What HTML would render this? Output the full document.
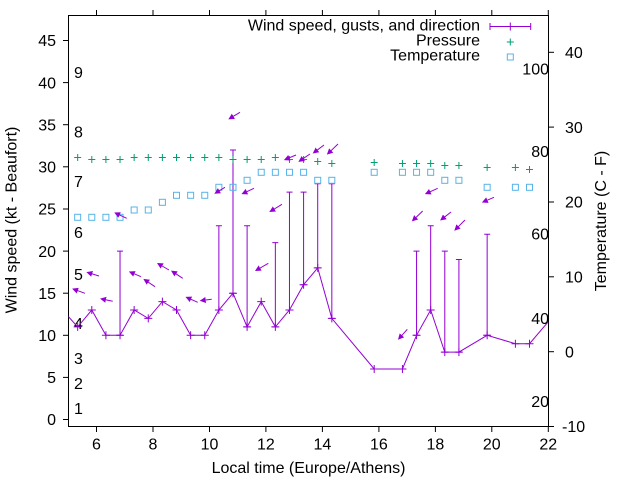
<!DOCTYPE html>
<html><head><meta charset="utf-8"><style>
html,body{margin:0;padding:0;background:#fff;}
svg{display:block;}
text{font-family:"Liberation Sans",Arial,sans-serif;font-size:16px;fill:#000;}
</style></head><body>
<svg width="640" height="480" viewBox="0 0 640 480" xmlns="http://www.w3.org/2000/svg">
<defs>
<marker id="ah" markerUnits="userSpaceOnUse" markerWidth="8" markerHeight="8" refX="4" refY="3" orient="auto">
<path d="M0,0 L6,3 L0,6 z" fill="#9400d3"/>
</marker>
<clipPath id="pc"><rect x="68.5" y="15.5" width="480" height="411"/></clipPath>
</defs>
<rect width="640" height="480" fill="#fff"/>

<rect x="68.5" y="15.5" width="480" height="411" fill="none" stroke="#000" stroke-width="1"/>

<g stroke="#000" stroke-width="1">
<line x1="63" y1="419.5" x2="68.5" y2="419.5"/>
<line x1="63" y1="377.4" x2="68.5" y2="377.4"/>
<line x1="63" y1="335.3" x2="68.5" y2="335.3"/>
<line x1="63" y1="293.2" x2="68.5" y2="293.2"/>
<line x1="63" y1="251.1" x2="68.5" y2="251.1"/>
<line x1="63" y1="209" x2="68.5" y2="209"/>
<line x1="63" y1="166.8" x2="68.5" y2="166.8"/>
<line x1="63" y1="124.7" x2="68.5" y2="124.7"/>
<line x1="63" y1="82.6" x2="68.5" y2="82.6"/>
<line x1="63" y1="40.5" x2="68.5" y2="40.5"/>
<line x1="548.5" y1="426.5" x2="554" y2="426.5"/>
<line x1="548.5" y1="351.7" x2="554" y2="351.7"/>
<line x1="548.5" y1="276.8" x2="554" y2="276.8"/>
<line x1="548.5" y1="202" x2="554" y2="202"/>
<line x1="548.5" y1="127.1" x2="554" y2="127.1"/>
<line x1="548.5" y1="52.3" x2="554" y2="52.3"/>
<line x1="96.5" y1="426.5" x2="96.5" y2="432"/>
<line x1="153" y1="426.5" x2="153" y2="432"/>
<line x1="209.5" y1="426.5" x2="209.5" y2="432"/>
<line x1="265.9" y1="426.5" x2="265.9" y2="432"/>
<line x1="322.4" y1="426.5" x2="322.4" y2="432"/>
<line x1="378.9" y1="426.5" x2="378.9" y2="432"/>
<line x1="435.4" y1="426.5" x2="435.4" y2="432"/>
<line x1="491.8" y1="426.5" x2="491.8" y2="432"/>
<line x1="548.3" y1="426.5" x2="548.3" y2="432"/>
<line x1="96.5" y1="10" x2="96.5" y2="15.5"/>
<line x1="153" y1="10" x2="153" y2="15.5"/>
<line x1="209.5" y1="10" x2="209.5" y2="15.5"/>
<line x1="265.9" y1="10" x2="265.9" y2="15.5"/>
<line x1="322.4" y1="10" x2="322.4" y2="15.5"/>
<line x1="378.9" y1="10" x2="378.9" y2="15.5"/>
<line x1="435.4" y1="10" x2="435.4" y2="15.5"/>
<line x1="491.8" y1="10" x2="491.8" y2="15.5"/>
<line x1="548.3" y1="10" x2="548.3" y2="15.5"/>
</g>

<g text-anchor="end">
<text x="56" y="425.2">0</text>
<text x="56" y="383.1">5</text>
<text x="56" y="341">10</text>
<text x="56" y="298.9">15</text>
<text x="56" y="256.8">20</text>
<text x="56" y="214.7">25</text>
<text x="56" y="172.5">30</text>
<text x="56" y="130.4">35</text>
<text x="56" y="88.3">40</text>
<text x="56" y="46.2">45</text>
</g>
<g>
<text x="562" y="432.2">-10</text>
<text x="565" y="357.4">0</text>
<text x="565" y="282.5">10</text>
<text x="565" y="207.7">20</text>
<text x="565" y="132.8">30</text>
<text x="565" y="58">40</text>
</g>
<g text-anchor="middle">
<text x="96.5" y="449.5">6</text>
<text x="153" y="449.5">8</text>
<text x="209.5" y="449.5">10</text>
<text x="265.9" y="449.5">12</text>
<text x="322.4" y="449.5">14</text>
<text x="378.9" y="449.5">16</text>
<text x="435.4" y="449.5">18</text>
<text x="491.8" y="449.5">20</text>
<text x="548.3" y="449.5">22</text>
</g>

<text x="308.5" y="473" text-anchor="middle">Local time (Europe/Athens)</text>
<text transform="translate(16.5,220) rotate(-90)" text-anchor="middle">Wind speed (kt - Beaufort)</text>
<text transform="translate(606,221) rotate(-90)" text-anchor="middle">Temperature (C - F)</text>

<g>
<text x="74" y="78">9</text>
<text x="74" y="137.4">8</text>
<text x="74" y="187">7</text>
<text x="74" y="238">6</text>
<text x="74" y="280">5</text>
<text x="74" y="329">4</text>
<text x="74" y="364">3</text>
<text x="74" y="389">2</text>
<text x="74" y="414">1</text>
</g>
<g text-anchor="end">
<text x="549" y="74.3">100</text>
<text x="549" y="157.2">80</text>
<text x="549" y="239.5">60</text>
<text x="549" y="324">40</text>
<text x="549" y="407">20</text>
</g>

<g clip-path="url(#pc)">
<polyline fill="none" stroke="#9400d3" stroke-width="1" points="68.3,316.5 77.67,326.9 91.79,310 105.91,335.3 120.03,335.3 134.15,310 148.27,318.4 162.39,301.6 176.51,310 190.63,335.3 204.75,335.3 218.87,310 232.99,293.2 247.11,326.9 261.23,301.6 275.35,326.9 289.47,310 303.59,284.7 317.71,267.9 331.83,318.4 374.19,369 402.43,369 416.55,335.3 430.67,310 444.79,352.1 458.91,352.1 487.15,335.3 515.39,343.7 529.51,343.7 548.3,321.7"/>
<g stroke="#9400d3" stroke-width="1" fill="none">
<path d="M120.03,335.3V251.1M117,251.1h6M117,335.3h6"/>
<path d="M218.87,310V225.8M215.9,225.8h6M215.9,310h6"/>
<path d="M232.99,293.2V150M230,150h6M230,293.2h6"/>
<path d="M247.11,326.9V225.8M244.1,225.8h6M244.1,326.9h6"/>
<path d="M275.35,326.9V242.6M272.3,242.6h6M272.3,326.9h6"/>
<path d="M289.47,310V192.1M286.5,192.1h6M286.5,310h6"/>
<path d="M303.59,284.7V192.1M300.6,192.1h6M300.6,284.7h6"/>
<path d="M317.71,267.9V183.7M314.7,183.7h6M314.7,267.9h6"/>
<path d="M331.83,318.4V183.7M328.8,183.7h6M328.8,318.4h6"/>
<path d="M416.55,335.3V251.1M413.5,251.1h6M413.5,335.3h6"/>
<path d="M430.67,310V225.8M427.7,225.8h6M427.7,310h6"/>
<path d="M444.79,352.1V251.1M441.8,251.1h6M441.8,352.1h6"/>
<path d="M458.91,352.1V259.5M455.9,259.5h6M455.9,352.1h6"/>
<path d="M487.15,335.3V234.2M484.2,234.2h6M484.2,335.3h6"/>
</g>
<g stroke="#9400d3" stroke-width="1">
<path d="M73.67,326.9h8M77.67,322.9v8"/>
<path d="M87.79,310h8M91.79,306v8"/>
<path d="M101.91,335.3h8M105.91,331.3v8"/>
<path d="M116.03,335.3h8M120.03,331.3v8"/>
<path d="M130.15,310h8M134.15,306v8"/>
<path d="M144.27,318.4h8M148.27,314.4v8"/>
<path d="M158.39,301.6h8M162.39,297.6v8"/>
<path d="M172.51,310h8M176.51,306v8"/>
<path d="M186.63,335.3h8M190.63,331.3v8"/>
<path d="M200.75,335.3h8M204.75,331.3v8"/>
<path d="M214.87,310h8M218.87,306v8"/>
<path d="M228.99,293.2h8M232.99,289.2v8"/>
<path d="M243.11,326.9h8M247.11,322.9v8"/>
<path d="M257.23,301.6h8M261.23,297.6v8"/>
<path d="M271.35,326.9h8M275.35,322.9v8"/>
<path d="M285.47,310h8M289.47,306v8"/>
<path d="M299.59,284.7h8M303.59,280.7v8"/>
<path d="M313.71,267.9h8M317.71,263.9v8"/>
<path d="M327.83,318.4h8M331.83,314.4v8"/>
<path d="M370.19,369h8M374.19,365v8"/>
<path d="M398.43,369h8M402.43,365v8"/>
<path d="M412.55,335.3h8M416.55,331.3v8"/>
<path d="M426.67,310h8M430.67,306v8"/>
<path d="M440.79,352.1h8M444.79,348.1v8"/>
<path d="M454.91,352.1h8M458.91,348.1v8"/>
<path d="M483.15,335.3h8M487.15,331.3v8"/>
<path d="M511.39,343.7h8M515.39,339.7v8"/>
<path d="M525.51,343.7h8M529.51,339.7v8"/>
</g>

<g stroke="#009e73" stroke-width="1">
<path d="M74.17,157.5h7M77.67,154v7"/>
<path d="M88.29,159.5h7M91.79,156v7"/>
<path d="M102.41,159.5h7M105.91,156v7"/>
<path d="M116.53,159.5h7M120.03,156v7"/>
<path d="M130.65,157.5h7M134.15,154v7"/>
<path d="M144.77,157.5h7M148.27,154v7"/>
<path d="M158.89,157.5h7M162.39,154v7"/>
<path d="M173.01,157.5h7M176.51,154v7"/>
<path d="M187.13,157.5h7M190.63,154v7"/>
<path d="M201.25,157.5h7M204.75,154v7"/>
<path d="M215.37,157.5h7M218.87,154v7"/>
<path d="M229.49,159.5h7M232.99,156v7"/>
<path d="M243.61,159.5h7M247.11,156v7"/>
<path d="M257.73,159.5h7M261.23,156v7"/>
<path d="M271.85,157.5h7M275.35,154v7"/>
<path d="M285.97,159.5h7M289.47,156v7"/>
<path d="M300.09,159.5h7M303.59,156v7"/>
<path d="M314.21,161.5h7M317.71,158v7"/>
<path d="M328.33,163.5h7M331.83,160v7"/>
<path d="M370.69,162.5h7M374.19,159v7"/>
<path d="M398.93,163.5h7M402.43,160v7"/>
<path d="M413.05,163.5h7M416.55,160v7"/>
<path d="M427.17,163.5h7M430.67,160v7"/>
<path d="M441.29,165.5h7M444.79,162v7"/>
<path d="M455.41,165.5h7M458.91,162v7"/>
<path d="M483.65,167.5h7M487.15,164v7"/>
<path d="M511.89,167.5h7M515.39,164v7"/>
<path d="M526.01,169.5h7M529.51,166v7"/>
</g>

<g stroke="#56b4e9" stroke-width="1" fill="none">
<rect x="74.67" y="214.3" width="6" height="6"/>
<rect x="88.79" y="214.3" width="6" height="6"/>
<rect x="102.91" y="214.3" width="6" height="6"/>
<rect x="117.03" y="214.3" width="6" height="6"/>
<rect x="131.15" y="207" width="6" height="6"/>
<rect x="145.27" y="207" width="6" height="6"/>
<rect x="159.39" y="199.3" width="6" height="6"/>
<rect x="173.51" y="192.3" width="6" height="6"/>
<rect x="187.63" y="192.3" width="6" height="6"/>
<rect x="201.75" y="192.3" width="6" height="6"/>
<rect x="215.87" y="184.3" width="6" height="6"/>
<rect x="229.99" y="184.3" width="6" height="6"/>
<rect x="244.11" y="177.3" width="6" height="6"/>
<rect x="258.23" y="169.3" width="6" height="6"/>
<rect x="272.35" y="169.3" width="6" height="6"/>
<rect x="286.47" y="169.3" width="6" height="6"/>
<rect x="300.59" y="169.3" width="6" height="6"/>
<rect x="314.71" y="177.3" width="6" height="6"/>
<rect x="328.83" y="177.3" width="6" height="6"/>
<rect x="371.19" y="169.3" width="6" height="6"/>
<rect x="399.43" y="169.3" width="6" height="6"/>
<rect x="413.55" y="169.3" width="6" height="6"/>
<rect x="427.67" y="169.3" width="6" height="6"/>
<rect x="441.79" y="177.3" width="6" height="6"/>
<rect x="455.91" y="177.3" width="6" height="6"/>
<rect x="484.15" y="184.3" width="6" height="6"/>
<rect x="512.39" y="184.3" width="6" height="6"/>
<rect x="526.51" y="184.3" width="6" height="6"/>
</g>

<g stroke="#9400d3" stroke-width="1" marker-end="url(#ah)">
<line x1="85" y1="293.3" x2="74" y2="289.3"/>
<line x1="99" y1="276" x2="88.3" y2="272.7"/>
<line x1="112.7" y1="301.3" x2="102" y2="299"/>
<line x1="126.7" y1="218.3" x2="116" y2="213.3"/>
<line x1="141" y1="276.7" x2="130.7" y2="272.3"/>
<line x1="155" y1="286.7" x2="145" y2="280"/>
<line x1="169" y1="270" x2="158.7" y2="264"/>
<line x1="182.7" y1="278.3" x2="172.7" y2="271.7"/>
<line x1="197.7" y1="302.3" x2="187.3" y2="297.7"/>
<line x1="211.7" y1="299.3" x2="201.7" y2="300.5"/>
<line x1="225" y1="187.3" x2="216" y2="192.7"/>
<line x1="240" y1="112.3" x2="230" y2="118.3"/>
<line x1="254" y1="188.3" x2="243.3" y2="193.3"/>
<line x1="268.3" y1="263.3" x2="256.7" y2="270"/>
<line x1="282" y1="204.3" x2="271" y2="211"/>
<line x1="296" y1="155" x2="285.7" y2="159.3"/>
<line x1="310" y1="154" x2="300" y2="160.7"/>
<line x1="324" y1="145" x2="314.3" y2="152.3"/>
<line x1="338" y1="144" x2="328.3" y2="153.3"/>
<line x1="407.3" y1="329.3" x2="399.3" y2="338.3"/>
<line x1="422.7" y1="211" x2="413.3" y2="220"/>
<line x1="437.7" y1="188.3" x2="426.7" y2="193.3"/>
<line x1="451" y1="212" x2="441.7" y2="219.3"/>
<line x1="465" y1="220" x2="455.7" y2="229.3"/>
<line x1="494" y1="197.3" x2="483.7" y2="201.7"/>
</g>
</g>

<g text-anchor="end">
<text x="480" y="30.7">Wind speed, gusts, and direction</text>
<text x="480" y="45.7">Pressure</text>
<text x="480" y="60.7">Temperature</text>
</g>
<g stroke="#9400d3" stroke-width="1">
<path d="M490,26.5H530.7M490,23v7M530.7,23v7M510.3,22.5v8"/>
</g>
<path d="M506.8,42h7M510.3,38.5v7" stroke="#009e73" stroke-width="1"/>
<rect x="507.3" y="54" width="6" height="6" stroke="#56b4e9" stroke-width="1" fill="none"/>
</svg>
</body></html>
